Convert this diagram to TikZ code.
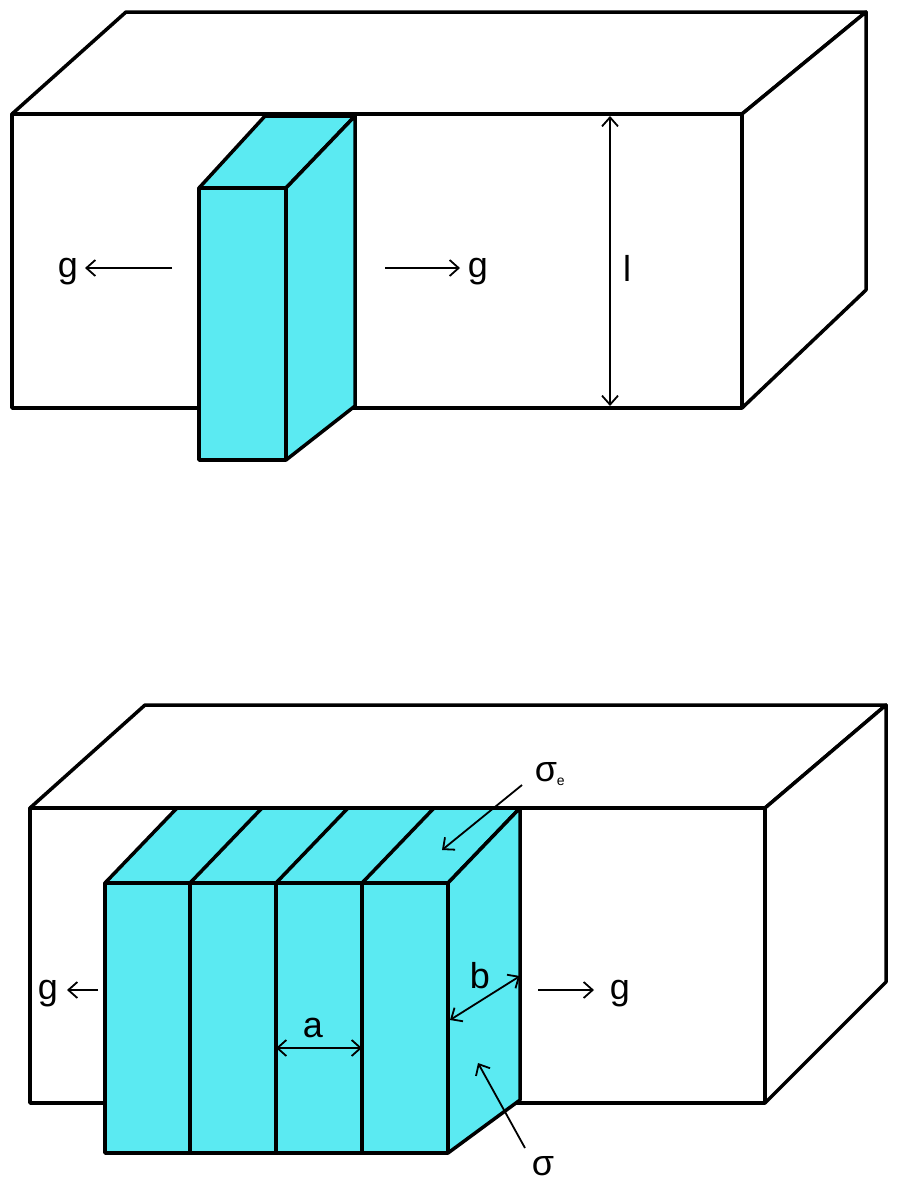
\documentclass[tikz,border=0pt]{standalone}
\usepackage{fontspec}
\setmainfont{Liberation Sans}
\usetikzlibrary{arrows.meta}
\begin{document}
\begin{tikzpicture}[x=1pt,y=-1pt,
 edge/.style={line width=3.5pt,line join=round},
 cy/.style={edge,fill=cyanb},
 tip/.tip={Straight Barb[length=9pt,width=16pt,line width=1.8pt]},
 ar/.style={line width=1.8pt,-tip},
 dar/.style={line width=1.8pt,tip-tip},
 lab/.style={font=\fontsize{36}{36}\selectfont,inner sep=0pt}]
\definecolor{cyanb}{HTML}{5BEAF2}
\useasboundingbox (0,0) rectangle (905,1189);
% top box
\draw[edge,fill=white] (12,114) -- (126,12) -- (866,12) -- (742,114) -- cycle;
\draw[edge,fill=white] (742,114) -- (866,12) -- (866,290) -- (742,408) -- cycle;
\draw[edge,fill=white] (12,114) rectangle (742,408);
\draw[cy] (199,188) -- (265,116) -- (355,116) -- (286,188) -- cycle;
\draw[cy] (286,188) -- (355,116) -- (355,406) -- (286,460) -- cycle;
\draw[cy] (199,188) rectangle (286,460);
\node[lab] (g1) at (68,272) {g};
\coordinate (g1s) at (172,268); \coordinate (g1e) at (85,268);
\draw[ar] (g1s) -- (g1e);
\node[lab] (g2) at (478,272) {g};
\coordinate (g2s) at (385,268); \coordinate (g2e) at (460,268);
\draw[ar] (g2s) -- (g2e);
\coordinate (lt) at (610,116); \coordinate (lb) at (610,406);
\draw[dar] (lt) -- (lb);
\node[lab] (l) at (627,268) {l};
% bottom box
\draw[edge,fill=white] (30,808) -- (145,705) -- (886,705) -- (765,808) -- cycle;
\draw[edge,fill=white] (765,808) -- (886,705) -- (886,982) -- (765,1103) -- cycle;
\draw[edge,fill=white] (30,808) rectangle (765,1103);
\draw[cy] (105,883) -- (177,808) -- (520,808) -- (448,883) -- cycle;
\foreach \x in {190,276,362} \draw[edge] (\x,883) -- (\x+72,808);
\draw[cy] (448,883) -- (520,808) -- (520,1100) -- (448,1153) -- cycle;
\draw[cy] (105,883) rectangle (448,1153);
\foreach \x in {190,276,362} \draw[edge] (\x,883) -- (\x,1153);
\node[lab] (se) at (550,774) {σ\textsubscript{\fontsize{14}{14}\selectfont e}};
\coordinate (ses) at (522,785); \coordinate (see) at (442,850);
\draw[ar] (ses) -- (see);
\node[lab] (s) at (543,1166) {σ};
\coordinate (ss) at (525,1148); \coordinate (se2) at (478,1063);
\draw[ar] (ss) -- (se2);
\node[lab] (b) at (480,976) {b};
\coordinate (b1) at (450,1020); \coordinate (b2) at (520,976);
\draw[dar] (b1) -- (b2);
\node[lab] (a) at (313,1028) {a};
\coordinate (a1) at (276,1048); \coordinate (a2) at (362,1048);
\draw[dar] (a1) -- (a2);
\node[lab] (g3) at (48,994) {g};
\coordinate (g3s) at (98,990); \coordinate (g3e) at (67,990);
\draw[ar] (g3s) -- (g3e);
\node[lab] (g4) at (620,994) {g};
\coordinate (g4s) at (538,990); \coordinate (g4e) at (594,990);
\draw[ar] (g4s) -- (g4e);
\end{tikzpicture}
\end{document}
